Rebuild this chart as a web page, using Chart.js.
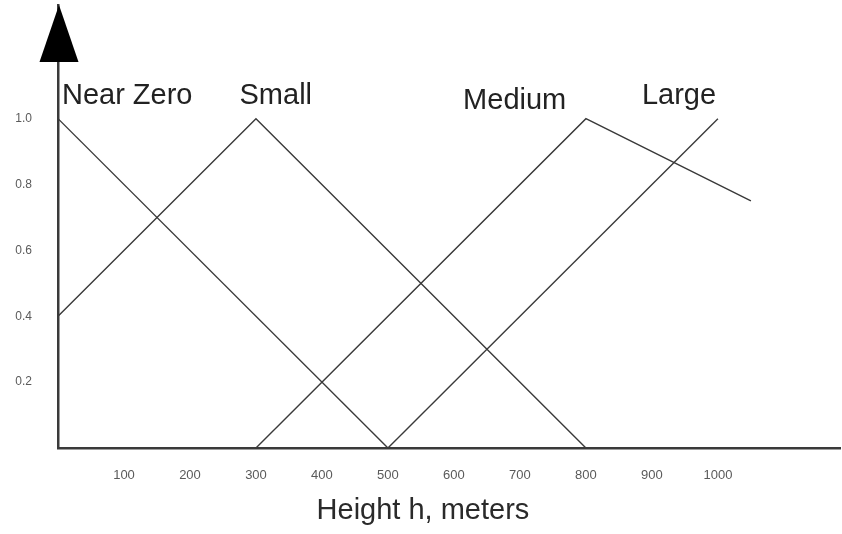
<!DOCTYPE html>
<html>
<head>
<meta charset="utf-8">
<title>Height membership functions</title>
<script src="https://cdn.jsdelivr.net/npm/chart.js@4.4.1/dist/chart.umd.min.js"></script>
<style>
  html, body { margin: 0; padding: 0; background: #fff; }
  #wrap { width: 842px; height: 534px; }
</style>
</head>
<body>
<div id="wrap"><canvas id="fuzzyChart" width="842" height="534"></canvas></div>
<script>
// membership functions (height in meters -> degree)
const nearZeroX = [0, 500];
const nearZeroY = [1.0, 0];
const smallX = [0, 300, 800];
const smallY = [0.4, 1.0, 0];
const mediumX = [300, 800, 1050];
const mediumY = [0, 1.0, 0.75];
const largeX = [500, 1000];
const largeY = [0, 1.0];

const seriesNames = ['Near Zero', 'Small', 'Medium', 'Large'];
const xTicks = [100, 200, 300, 400, 500, 600, 700, 800, 900, 1000];
const yTicks = [0.2, 0.4, 0.6, 0.8, 1.0];
const xTitle = 'Height h, meters';

const toPoints = (xs, ys) => xs.map((x, i) => ({ x: x, y: ys[i] }));
const lineColor = '#3a3a3a';
const axisColor = '#3a3a3a';
const fontFamily = '"Liberation Sans", Arial, Helvetica, sans-serif';

// where the series names and the axis title sit, in data units
const nameSpots = [
  { x: 6, y: 1.068, align: 'left' },
  { x: 330, y: 1.068, align: 'center' },
  { x: 692, y: 1.053, align: 'center' },
  { x: 941, y: 1.068, align: 'center' }
];

const decorations = {
  id: 'decorations',
  afterDraw(chart) {
    const ctx = chart.ctx;
    const xs = chart.scales.x;
    const ys = chart.scales.y;
    const area = chart.chartArea;

    // arrow head on top of the vertical axis
    const ax = area.left + 1;
    ctx.save();
    ctx.fillStyle = '#000';
    ctx.beginPath();
    ctx.moveTo(ax, area.top);
    ctx.lineTo(ax - 19.5, area.top + 57);
    ctx.lineTo(ax + 19.5, area.top + 57);
    ctx.closePath();
    ctx.fill();

    // series names
    ctx.font = '29px ' + fontFamily;
    ctx.fillStyle = '#222';
    ctx.textBaseline = 'middle';
    seriesNames.forEach((name, i) => {
      const s = nameSpots[i];
      ctx.textAlign = s.align;
      ctx.fillText(name, xs.getPixelForValue(s.x), ys.getPixelForValue(s.y));
    });

    // axis title
    ctx.fillStyle = '#2a2a2a';
    ctx.textAlign = 'center';
    ctx.fillText(xTitle, xs.getPixelForValue(553), 511);
    ctx.restore();
  }
};

new Chart(document.getElementById('fuzzyChart'), {
  type: 'line',
  data: {
    datasets: [
      { label: seriesNames[0], data: toPoints(nearZeroX, nearZeroY) },
      { label: seriesNames[1], data: toPoints(smallX, smallY) },
      { label: seriesNames[2], data: toPoints(mediumX, mediumY) },
      { label: seriesNames[3], data: toPoints(largeX, largeY) }
    ].map(d => Object.assign(d, {
      borderColor: lineColor,
      borderWidth: 1.4,
      pointRadius: 0,
      fill: false,
      tension: 0
    }))
  },
  options: {
    responsive: false,
    animation: false,
    layout: { autoPadding: false, padding: { top: 5, right: 2, left: 0, bottom: 0 } },
    plugins: {
      legend: { display: false },
      tooltip: { enabled: false }
    },
    scales: {
      x: {
        type: 'linear',
        min: 0,
        max: 1185,
        afterFit: s => { s.height = 86; s.paddingLeft = 0; s.paddingRight = 0; },
        afterBuildTicks: s => { s.ticks = xTicks.map(v => ({ value: v })); },
        grid: { display: true, drawOnChartArea: false, drawTicks: false },
        border: { display: true, color: axisColor, width: 2.5 },
        ticks: {
          autoSkip: false,
          maxRotation: 0,
          padding: 20,
          color: '#5a5a5a',
          font: { family: fontFamily, size: 13 },
          callback: v => String(v)
        }
      },
      y: {
        type: 'linear',
        min: 0,
        max: 1.345,
        afterFit: s => { s.width = 58; s.paddingTop = 0; s.paddingBottom = 0; },
        afterBuildTicks: s => { s.ticks = yTicks.map(v => ({ value: v })); },
        grid: { display: true, drawOnChartArea: false, drawTicks: false },
        border: { display: true, color: axisColor, width: 2.5 },
        ticks: {
          autoSkip: false,
          padding: 26,
          color: '#5a5a5a',
          font: { family: fontFamily, size: 12 },
          callback: v => v.toFixed(1)
        }
      }
    }
  },
  plugins: [decorations]
});
</script>
</body>
</html>
